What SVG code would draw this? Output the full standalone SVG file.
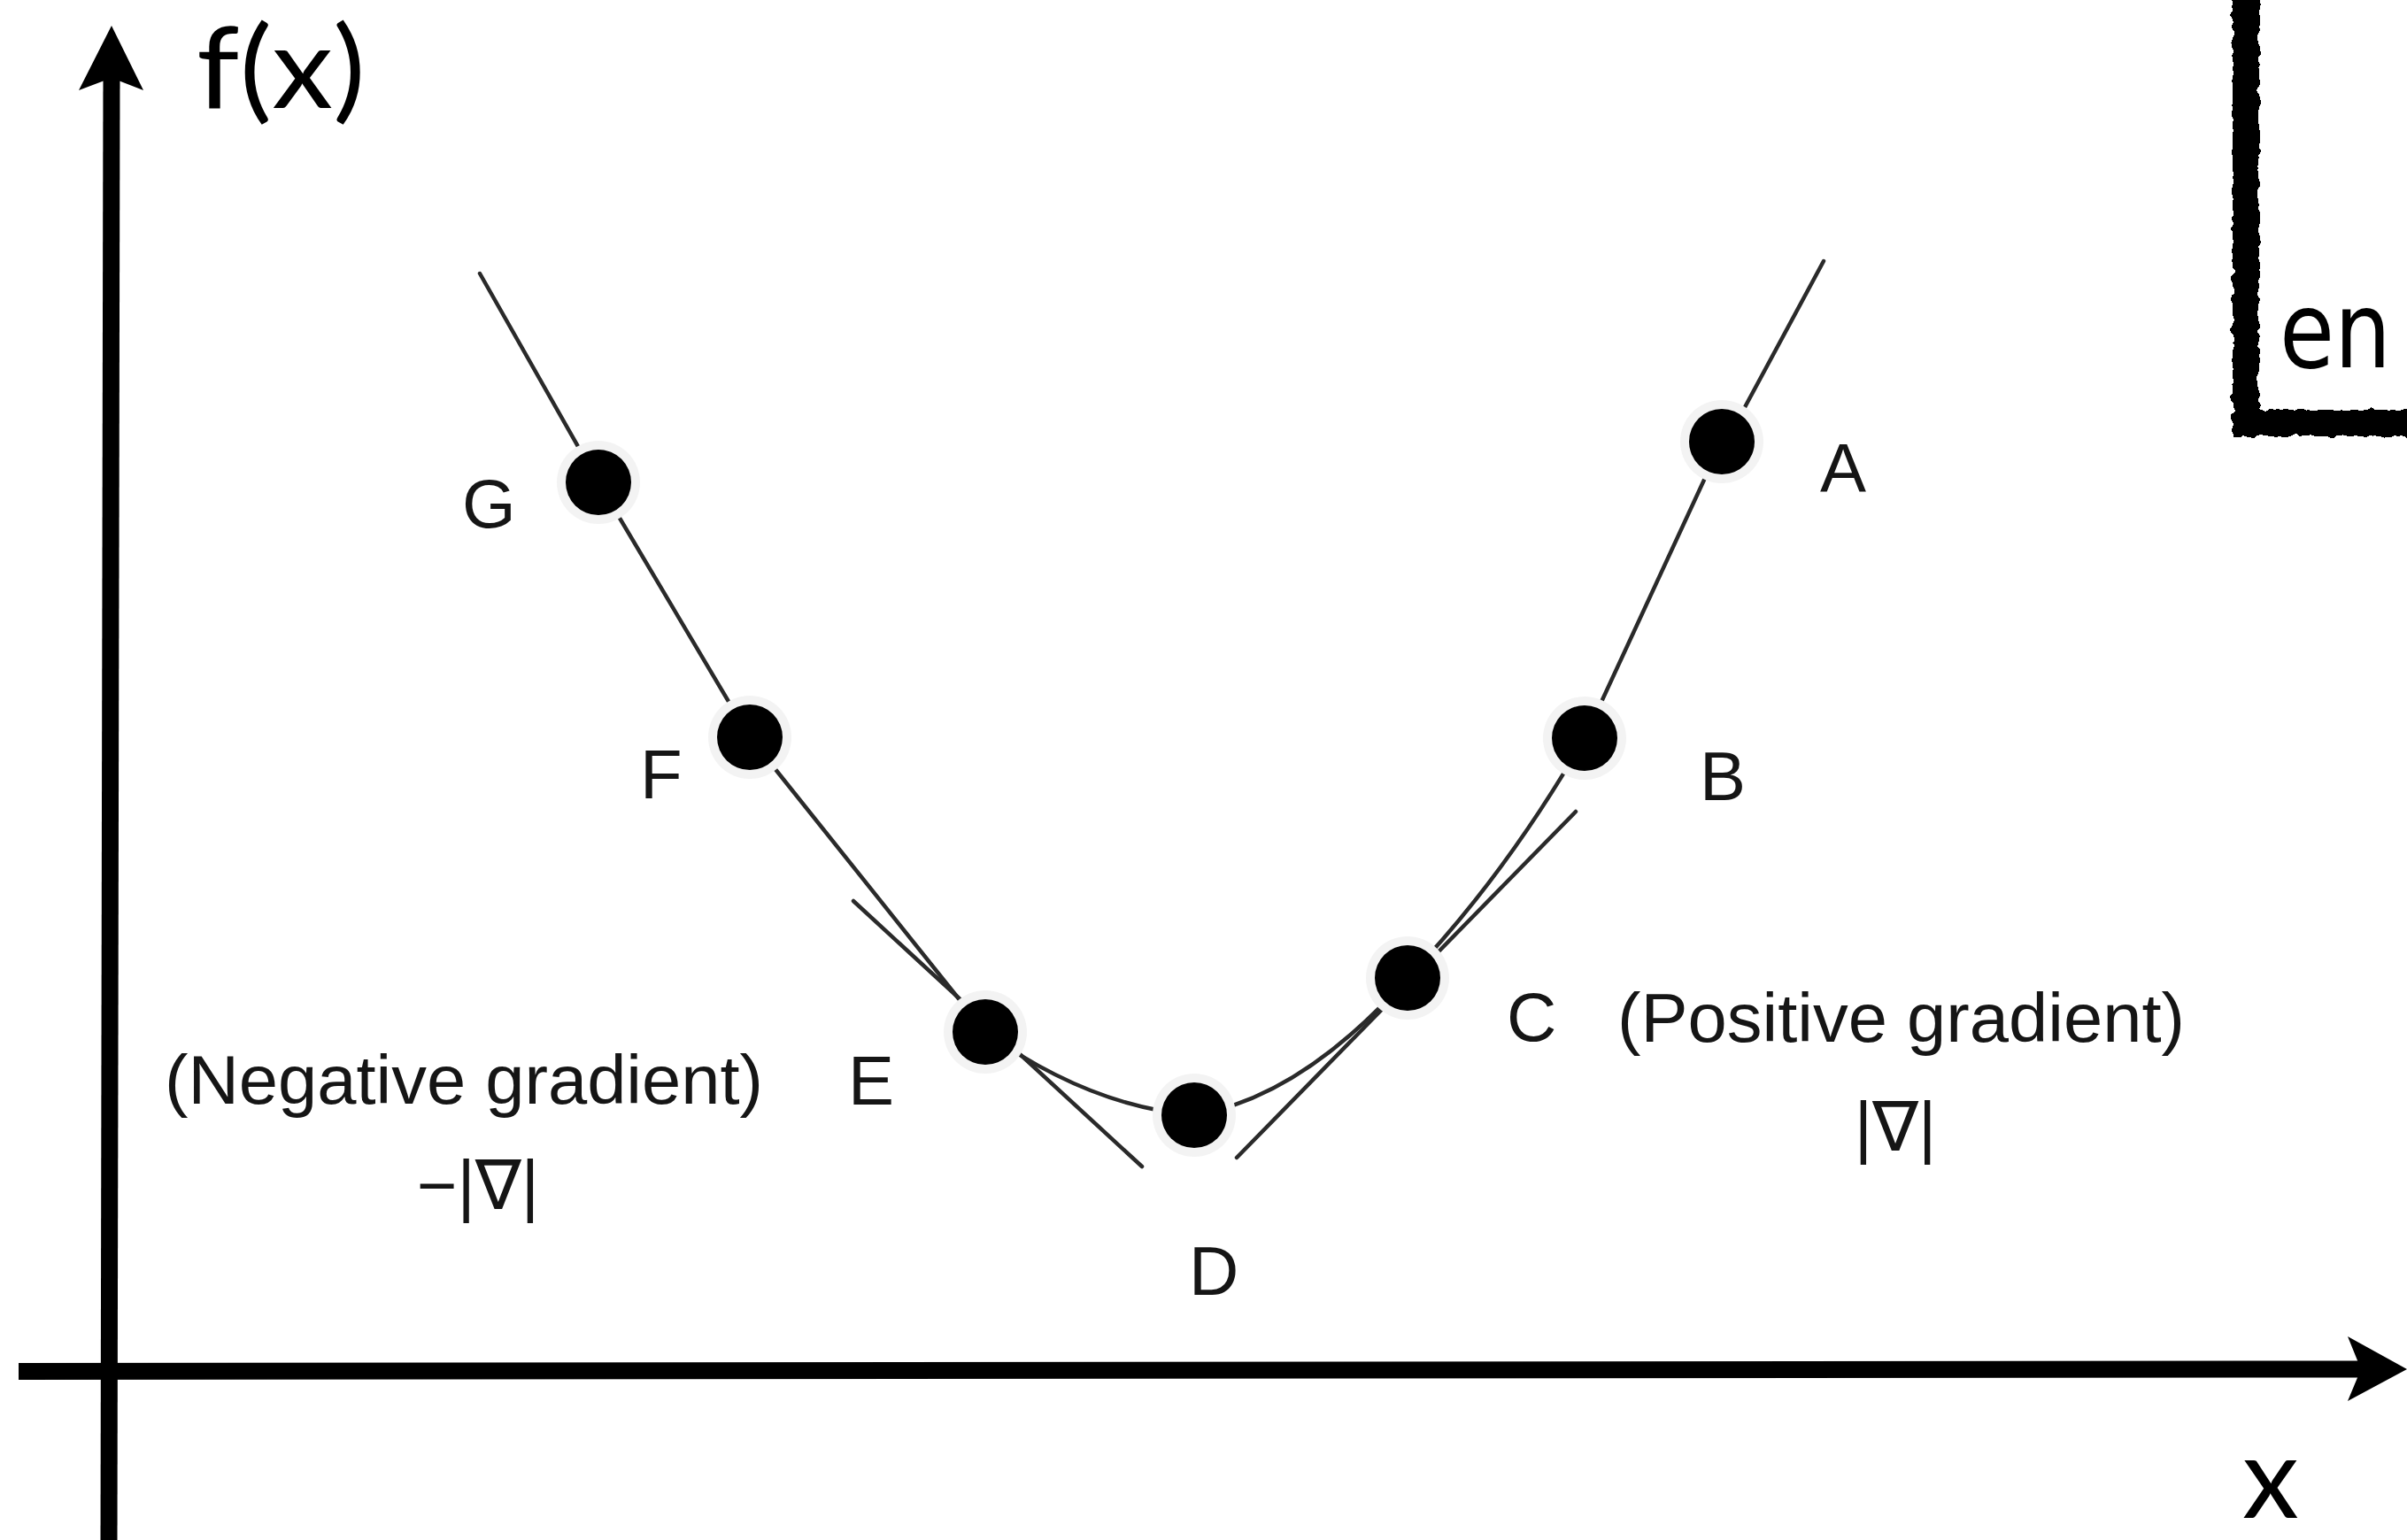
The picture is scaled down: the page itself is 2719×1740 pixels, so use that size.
<svg xmlns="http://www.w3.org/2000/svg" width="2719" height="1740" viewBox="0 0 2719 1740">
  <style>
    .curve { fill: none; stroke: #2a2a2a; stroke-width: 4.5; stroke-linecap: round; }
    .axis { fill: none; stroke: #000; stroke-width: 19; }
    .halo { fill: #f3f3f3; }
    .dot { fill: #000; }
    .lbl { font-family: "Liberation Sans", "DejaVu Sans", sans-serif; font-size: 78px; fill: #151515; }
    .axlbl { font-family: Lato, "Open Sans", sans-serif; font-size: 128px; fill: #000; }
  </style>
  <defs>
    <filter id="rough" x="-10%" y="-10%" width="120%" height="120%">
      <feTurbulence type="fractalNoise" baseFrequency="0.09" numOctaves="2" seed="3" result="n"/>
      <feDisplacementMap in="SourceGraphic" in2="n" scale="9" xChannelSelector="R" yChannelSelector="G"/>
    </filter>
  </defs>
  <rect width="2719" height="1740" fill="#fff"/>

  <!-- sketchy box (top right, partially visible) -->
  <g id="box">
    <path d="M2537,-30 L2537,478 L2760,478" fill="none" stroke="#000" stroke-width="30" filter="url(#rough)"/>
    <text x="2575" y="415" font-family="DejaVu Sans, sans-serif" font-size="120" fill="#000" textLength="126" lengthAdjust="spacingAndGlyphs">en</text>
  </g>

  <!-- axes -->
  <g id="axes">
    <line class="axis" x1="126" y1="86" x2="123" y2="1740"/>
    <polygon points="126,29 162,102 126,88 89,102" fill="#000"/>
    <line class="axis" x1="21" y1="1549.5" x2="2668" y2="1547"/>
    <polygon points="2719,1547 2652,1583 2667,1547 2652,1510" fill="#000"/>
    <text class="axlbl" x="222" y="122" textLength="191" lengthAdjust="spacingAndGlyphs">f(x)</text>
    <text class="axlbl" x="2533" y="1715">x</text>
  </g>

  <!-- connectors: curve segments and tangents -->
  <g id="connectors">
    <path class="curve" d="M542,309 L676,545"/>
    <path class="curve" d="M676,545 L847,833"/>
    <path class="curve" d="M847,833 L1113,1166"/>
    <path class="curve" d="M964,1018 L1290,1318"/>
    <path class="curve" d="M1113,1166 Q1230,1250 1349,1260"/>
    <path class="curve" d="M1349,1260 Q1470,1240 1590,1105"/>
    <path class="curve" d="M1397,1308 L1780,917"/>
    <path class="curve" d="M1590,1105 Q1700,990 1790,834"/>
    <path class="curve" d="M1790,834 L1945,499"/>
    <path class="curve" d="M1950,499 L2060,295"/>
  </g>

  <!-- points -->
  <g id="node-G">
    <circle class="halo" cx="676" cy="545" r="47"/>
    <circle class="dot" cx="676" cy="545" r="37"/>
    <text class="lbl" x="522" y="596">G</text>
  </g>
  <g id="node-F">
    <circle class="halo" cx="847" cy="833" r="47"/>
    <circle class="dot" cx="847" cy="833" r="37"/>
    <text class="lbl" x="723" y="902">F</text>
  </g>
  <g id="node-E">
    <circle class="halo" cx="1113" cy="1166" r="47"/>
    <circle class="dot" cx="1113" cy="1166" r="37"/>
    <text class="lbl" x="958" y="1248">E</text>
  </g>
  <g id="node-D">
    <circle class="halo" cx="1349" cy="1260" r="47"/>
    <circle class="dot" cx="1349" cy="1260" r="37"/>
    <text class="lbl" x="1343" y="1463">D</text>
  </g>
  <g id="node-C">
    <circle class="halo" cx="1590" cy="1105" r="47"/>
    <circle class="dot" cx="1590" cy="1105" r="37"/>
    <text class="lbl" x="1702" y="1176">C</text>
  </g>
  <g id="node-B">
    <circle class="halo" cx="1790" cy="834" r="47"/>
    <circle class="dot" cx="1790" cy="834" r="37"/>
    <text class="lbl" x="1920" y="904">B</text>
  </g>
  <g id="node-A">
    <circle class="halo" cx="1945" cy="499" r="47"/>
    <circle class="dot" cx="1945" cy="499" r="37"/>
    <text class="lbl" x="2056" y="556">A</text>
  </g>

  <!-- gradient annotations -->
  <g id="neg-gradient">
    <text class="lbl" x="186" y="1247" textLength="676" lengthAdjust="spacingAndGlyphs">(Negative gradient)</text>
    <text class="lbl" x="540" y="1366" text-anchor="middle">−|∇|</text>
  </g>
  <g id="pos-gradient">
    <text class="lbl" x="1827" y="1177" textLength="641" lengthAdjust="spacingAndGlyphs">(Positive gradient)</text>
    <text class="lbl" x="2141" y="1300" text-anchor="middle">|∇|</text>
  </g>
</svg>
